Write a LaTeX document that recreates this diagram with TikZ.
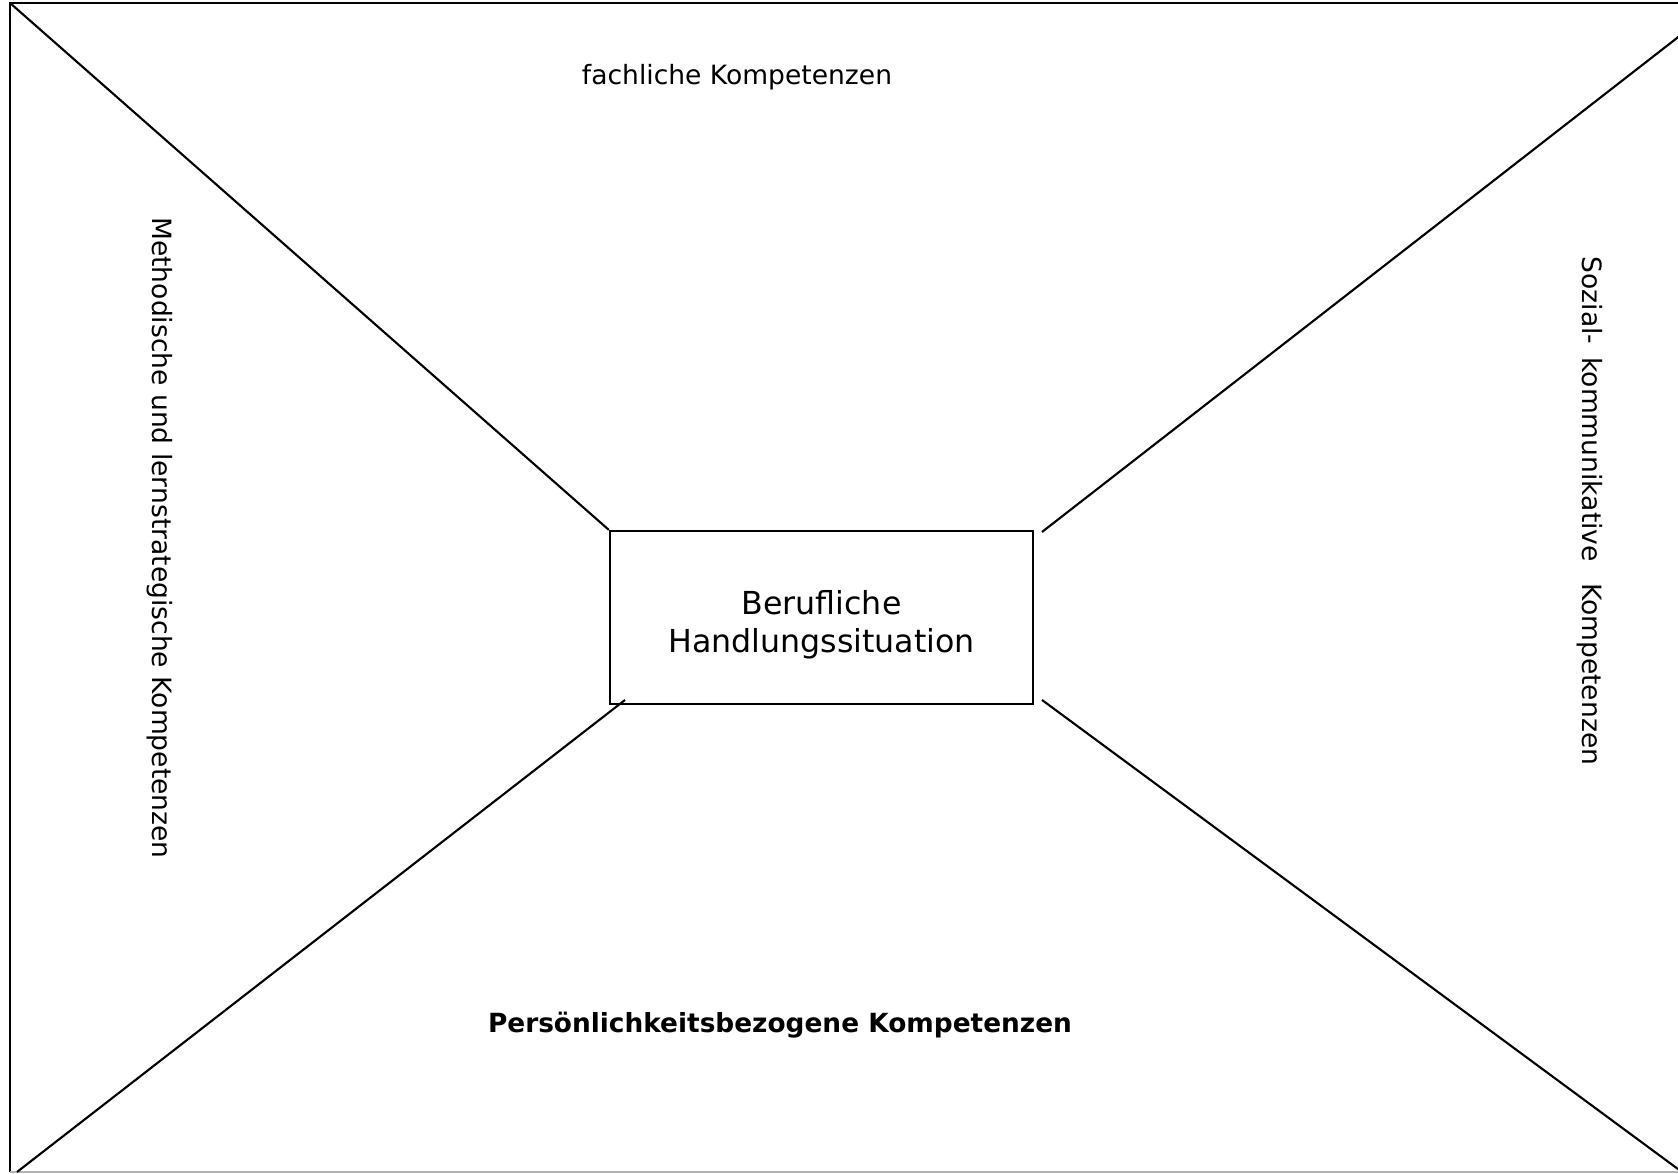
\documentclass[tikz,border=0pt]{standalone}
\usepackage{fontspec}
\setmainfont{DejaVu Sans}
\tikzset{
    linie/.style={line width=0.6pt},
    kompetenz/.style={font=\fontsize{7.55}{9}\selectfont, inner sep=0pt},
    situationbox/.style={draw, line width=0.6pt, minimum width=4.23cm, minimum height=1.73cm,
        inner sep=0pt}
}
\begin{document}
\begin{tikzpicture}[x=0.01cm, y=-0.01cm]
    % Rahmen
    \useasboundingbox (0,0) rectangle (1678,1174);
    \clip (0,0) rectangle (1678,1174);
    \draw[linie] (10,1172) -- (10,3) -- (1740,3);
    \draw[linie, gray!60] (10,1172) -- (1700,1172);
    
    % Mittelfeld
    \node[situationbox, label={[yshift=-0.075cm, align=center, font=\fontsize{9}{10.9}\selectfont]center:Berufliche\\Handlungssituation}] (situation) at (821.5,617.5) {};
    
    % Endpunkte der Diagonalen
    \coordinate (ol) at (10,3);
    \coordinate (or) at (1722,3);
    \coordinate (ul) at (17,1172);
    \coordinate (ur) at (1682,1172);
    \coordinate (sor) at (1042,532);
    \coordinate (sur) at (1042,700);
    \coordinate (sul) at (625,700);
    
    % Diagonalen
    \draw[linie] (ol) -- (situation.north west);
    \draw[linie] (sor) -- (or);
    \draw[linie] (sur) -- (ur);
    \draw[linie] (sul) -- (ul);
    
    % Kompetenzbereiche
    \node[kompetenz] (fach) at (737,77) {fachliche Kompetenzen};
    \node[kompetenz, rotate=-90] (methode) at (160,538) {Methodische und lernstrategische Kompetenzen};
    \node[kompetenz, rotate=-90] (sozial) at (1590,511) {Sozial-\ \,kommunikative\ \ \,Kompetenzen};
    \node[kompetenz, font=\fontsize{7.5}{9}\selectfont\bfseries] (person) at (780,1025) {Persönlichkeitsbezogene Kompetenzen};
    
\end{tikzpicture}
\end{document}
